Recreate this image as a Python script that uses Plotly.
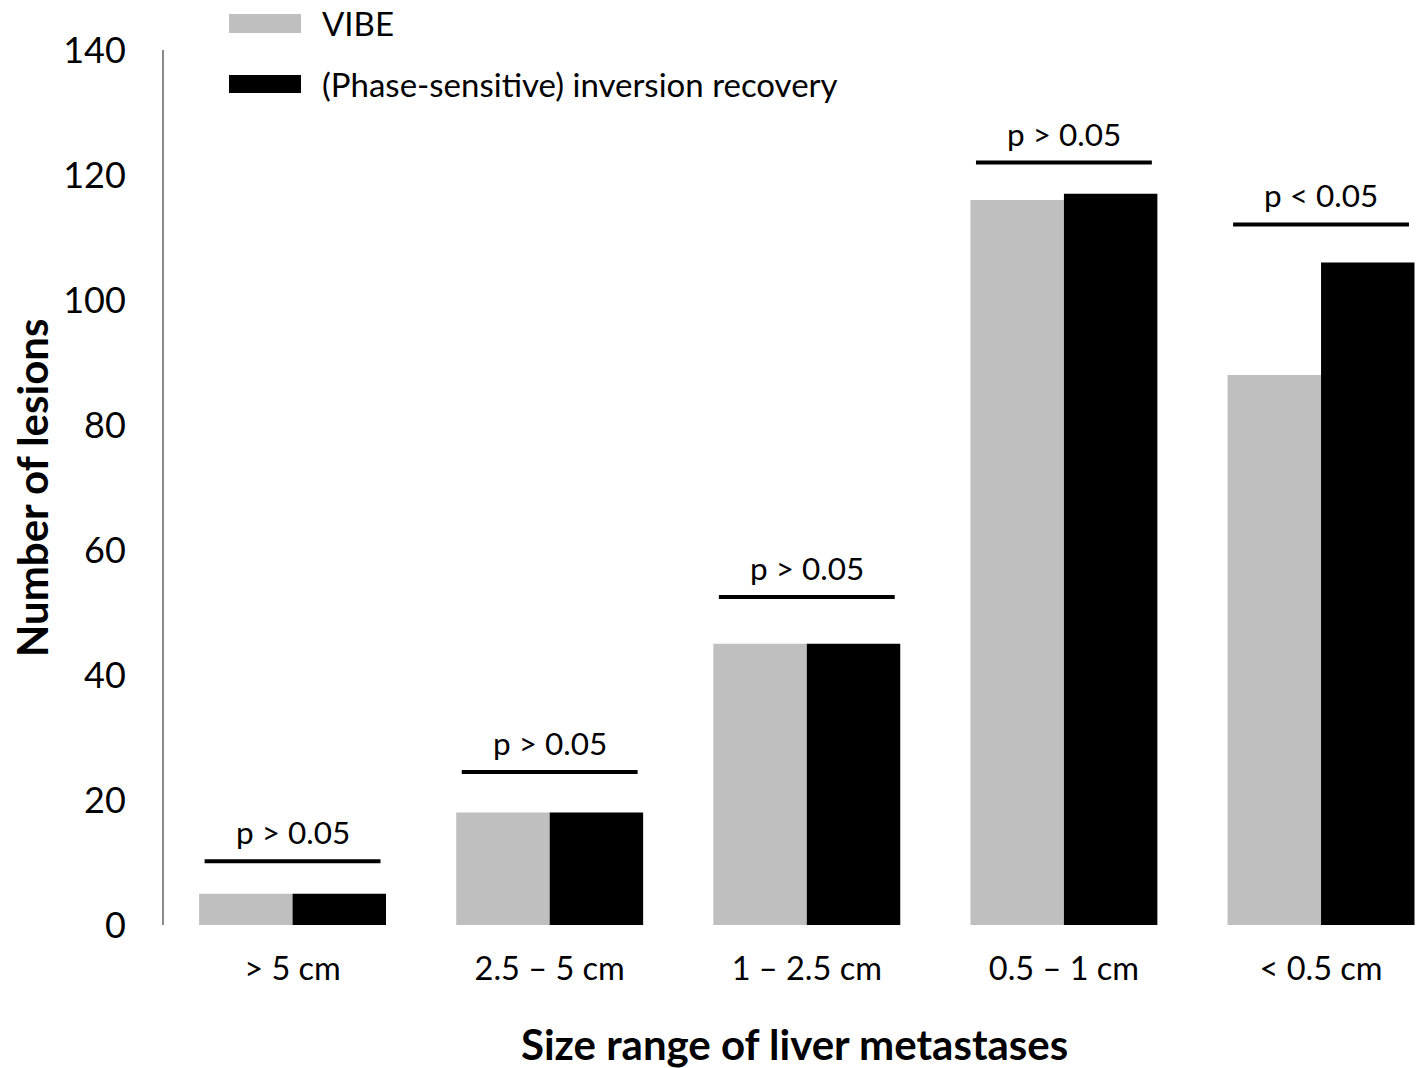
import plotly.graph_objects as go

# Lesion counts per size range, detected with each MRI sequence
categories = ["> 5 cm", "2.5 – 5 cm", "1 – 2.5 cm", "0.5 – 1 cm", "< 0.5 cm"]
vibe_counts = [5, 18, 45, 116, 88]
ir_counts = [5, 18, 45, 117, 106]
p_labels = ["p > 0.05", "p > 0.05", "p > 0.05", "p > 0.05", "p < 0.05"]
bracket_levels = [10.2, 24.5, 52.5, 122.0, 112.1]
y_ticks = [0, 20, 40, 60, 80, 100, 120, 140]

series_names = ["VIBE", "(Phase-sensitive) inversion recovery"]
series_colors = ["#BFBFBF", "#000000"]

FONT = "Lato"
W, H = 1419, 1068
L, R, T, B = 164, 0, 50, 143

fig = go.Figure()
fig.add_trace(go.Bar(x=categories, y=vibe_counts, name=series_names[0],
                     marker=dict(color=series_colors[0], line=dict(width=0))))
fig.add_trace(go.Bar(x=categories, y=ir_counts, name=series_names[1],
                     marker=dict(color=series_colors[1], line=dict(width=0))))

# significance brackets with p-value labels
half = 0.342
for i, (lvl, txt) in enumerate(zip(bracket_levels, p_labels)):
    fig.add_shape(type="line", xref="x", yref="y",
                  x0=i - half, x1=i + half, y0=lvl, y1=lvl,
                  line=dict(color="black", width=4))
    fig.add_annotation(x=i, y=lvl, xref="x", yref="y", text=txt,
                       showarrow=False, yanchor="middle", yshift=29,
                       font=dict(family=FONT, size=31.5, color="black"))

# pixel -> paper helpers for the hand-placed legend and titles
pw, ph = W - L - R, H - T - B
def px(x):
    return (x - L) / pw
def py(y):
    return (H - B - y) / ph

legend_rows = [(14, 33, 23), (75, 93, 84)]
for (y0, y1, yc), name, col in zip(legend_rows, series_names, series_colors):
    fig.add_shape(type="rect", xref="paper", yref="paper",
                  x0=px(229), x1=px(301), y0=py(y1), y1=py(y0),
                  fillcolor=col, line=dict(width=0))
    fig.add_annotation(x=px(320), y=py(yc), xref="paper", yref="paper",
                       text=name, showarrow=False, xanchor="left",
                       yanchor="middle",
                       font=dict(family=FONT, size=33, color="black"))

fig.add_annotation(x=px(32), y=py(488), xref="paper", yref="paper",
                   text="<b>Number of lesions</b>", textangle=-90,
                   showarrow=False, xanchor="center", yanchor="middle",
                   font=dict(family=FONT, size=42, color="black"))
fig.add_annotation(x=px(794), y=py(1044), xref="paper", yref="paper",
                   text="<b>Size range of liver metastases</b>",
                   showarrow=False, xanchor="center", yanchor="middle",
                   font=dict(family=FONT, size=42, color="black"))

fig.update_layout(
    width=W, height=H,
    margin=dict(l=L, r=R, t=T, b=B, pad=0),
    paper_bgcolor="white", plot_bgcolor="white",
    barmode="group", bargap=0.273, bargroupgap=0,
    showlegend=False,
    font=dict(family=FONT, size=32, color="black"),
)
fig.update_xaxes(range=[-0.5, 4.381], showline=False, showgrid=False,
                 zeroline=False, ticks="outside", ticklen=15,
                 tickcolor="rgba(0,0,0,0)",
                 tickfont=dict(family=FONT, size=32.5, color="black"))
fig.update_yaxes(range=[0, 140], tickvals=y_ticks, showgrid=False,
                 zeroline=False, showline=True, linecolor="#898989",
                 linewidth=2, ticks="outside", ticklen=29,
                 tickcolor="rgba(0,0,0,0)",
                 tickfont=dict(family=FONT, size=36, color="black"))

fig.write_html("out.html")
